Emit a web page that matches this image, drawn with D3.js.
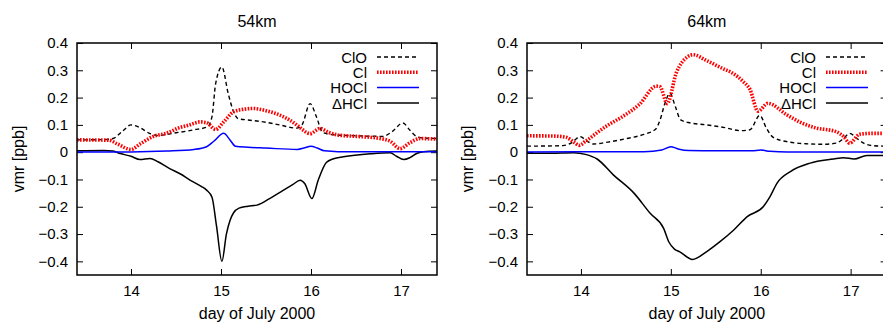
<!DOCTYPE html>
<html>
<head>
<meta charset="utf-8">
<script src="https://cdn.jsdelivr.net/npm/d3@7"></script>
<style>
  html, body { margin: 0; padding: 0; background: #fff; }
  svg { display: block; font-family: "Liberation Sans", Arial, Helvetica, sans-serif; }
</style>
</head>
<body>
<svg id="chart" width="883" height="322"></svg>
<script>
// Chlorine species volume mixing ratios [ppb] vs. day of July 2000, at two altitudes.
const panelTitles = ["54km", "64km"];
const seriesNames = ["ClO", "Cl", "HOCl", "\u0394HCl"];
const xTicks = [14, 15, 16, 17];
const yTicks = [-0.4, -0.3, -0.2, -0.1, 0, 0.1, 0.2, 0.3, 0.4];
const xDomain = [13.4, 17.4];
const yDomain = [-0.45, 0.4];

// 54 km
const clo54 = [[13.4,.045],[13.7,.046],[13.8,.05],[13.9,.075],[14.0,.10],[14.1,.09],[14.2,.07],[14.3,.061],
  [14.5,.071],[14.7,.082],[14.85,.093],[14.9,.13],[14.94,.25],[15.01,.312],[15.08,.215],[15.14,.148],
  [15.19,.123],[15.3,.118],[15.47,.111],[15.65,.1],[15.84,.088],[15.9,.1],[15.99,.178],[16.06,.13],
  [16.13,.072],[16.25,.064],[16.5,.06],[16.8,.058],[16.9,.075],[17.02,.107],[17.1,.08],[17.17,.058],
  [17.25,.052],[17.4,.05]];
const cl54 = [[13.4,.045],[13.75,.044],[13.85,.03],[14.0,.01],[14.1,.03],[14.25,.058],[14.4,.07],
  [14.54,.09],[14.65,.1],[14.77,.111],[14.84,.108],[14.94,.083],[15.03,.111],[15.14,.148],[15.25,.157],
  [15.36,.16],[15.5,.152],[15.66,.135],[15.8,.11],[15.86,.095],[15.99,.068],[16.1,.087],[16.2,.072],
  [16.32,.062],[16.5,.058],[16.77,.05],[16.88,.04],[16.99,.013],[17.1,.035],[17.21,.05],[17.4,.048]];
const hocl54 = [[13.4,.001],[14.0,.001],[14.4,.004],[14.7,.01],[14.84,.02],[14.92,.04],[15.03,.069],
  [15.1,.045],[15.16,.022],[15.3,.018],[15.5,.015],[15.85,.01],[15.92,.015],[16.0,.022],[16.07,.015],
  [16.15,.005],[16.3,.002],[17.4,.002]];
const hcl54 = [[13.4,.005],[13.7,.006],[13.8,.004],[13.88,-.005],[14.0,-.015],[14.1,-.027],[14.21,-.023],
  [14.3,-.035],[14.43,-.06],[14.55,-.08],[14.66,-.103],[14.78,-.125],[14.84,-.139],[14.9,-.165],
  [14.95,-.27],[15.01,-.4],[15.06,-.3],[15.1,-.25],[15.14,-.222],[15.2,-.205],[15.3,-.198],[15.4,-.194],
  [15.54,-.17],[15.69,-.14],[15.8,-.118],[15.88,-.103],[15.93,-.115],[16.01,-.17],[16.08,-.103],
  [16.17,-.038],[16.25,-.024],[16.36,-.017],[16.66,-.006],[16.88,-.002],[16.95,-.015],[17.03,-.027],
  [17.1,-.02],[17.18,-.004],[17.25,.002],[17.4,.004]];

// 64 km
const clo64 = [[13.4,.022],[13.8,.024],[13.9,.035],[13.99,.057],[14.07,.04],[14.14,.03],[14.3,.037],
  [14.51,.05],[14.7,.065],[14.83,.084],[14.88,.118],[14.94,.185],[14.99,.216],[15.05,.167],[15.11,.118],
  [15.22,.107],[15.4,.1],[15.6,.09],[15.77,.079],[15.88,.082],[15.99,.135],[16.06,.09],[16.14,.054],
  [16.3,.038],[16.5,.031],[16.7,.029],[16.84,.033],[16.92,.05],[16.99,.069],[17.07,.05],[17.15,.032],
  [17.25,.024],[17.4,.022]];
const cl64 = [[13.4,.06],[13.7,.059],[13.83,.055],[13.93,.035],[13.98,.025],[14.05,.04],[14.28,.095],
  [14.46,.13],[14.65,.175],[14.84,.242],[14.88,.24],[14.96,.178],[15.06,.29],[15.18,.348],[15.25,.357],
  [15.39,.337],[15.58,.306],[15.69,.289],[15.8,.26],[15.88,.23],[15.97,.15],[16.08,.179],[16.29,.137],
  [16.45,.108],[16.6,.09],[16.84,.075],[16.92,.058],[16.99,.033],[17.1,.066],[17.25,.069],[17.4,.069]];
const hocl64 = [[13.4,.001],[14.7,.002],[14.9,.008],[15.0,.02],[15.08,.012],[15.2,.006],[15.5,.005],
  [15.9,.005],[16.0,.008],[16.1,.003],[16.3,.001],[17.4,.001]];
const hcl64 = [[13.4,-.004],[13.66,-.004],[13.92,-.002],[14.05,-.008],[14.18,-.025],[14.36,-.083],
  [14.59,-.15],[14.77,-.224],[14.92,-.279],[14.98,-.33],[15.04,-.355],[15.1,-.365],[15.24,-.393],
  [15.4,-.364],[15.55,-.327],[15.7,-.285],[15.85,-.236],[16.03,-.199],[16.1,-.165],[16.18,-.114],
  [16.33,-.071],[16.55,-.04],[16.81,-.025],[16.92,-.02],[17.04,-.025],[17.18,-.012],[17.4,-.012]];

const panelData = [[clo54, cl54, hocl54, hcl54], [clo64, cl64, hocl64, hcl64]];

// Line styles for ClO, Cl, HOCl, ΔHCl
const styles = [
  { stroke: "#000", width: 1.4, dash: "4,3" },
  { stroke: "#ff0000", width: 3.6, dash: "1.6,1.4" },
  { stroke: "#0000ff", width: 1.5, dash: null },
  { stroke: "#000", width: 1.5, dash: null }
];

const panels = [
  { left: 77, right: 437, ylabelX: 18, legendX: 367 },
  { left: 527, right: 886.6, ylabelX: 467, legendX: 816 }
];
const plotTop = 43, plotBottom = 275;

const svg = d3.select("#chart");
const defs = svg.append("defs");

panels.forEach((p, i) => {
  const x = d3.scaleLinear().domain(xDomain).range([p.left, p.right]);
  const y = d3.scaleLinear().domain(yDomain).range([plotBottom, plotTop]);
  const g = svg.append("g");

  defs.append("clipPath").attr("id", "clip" + i)
    .append("rect").attr("x", p.left).attr("y", plotTop)
    .attr("width", p.right - p.left).attr("height", plotBottom - plotTop);

  // Axes with inward ticks on all four sides
  const tickLen = 6;
  g.append("g").attr("transform", `translate(0,${plotBottom})`)
    .call(d3.axisBottom(x).tickValues(xTicks).tickSize(-tickLen).tickPadding(10).tickFormat(d3.format("d")))
    .call(a => a.select(".domain").remove());
  g.append("g").attr("transform", `translate(0,${plotTop})`)
    .call(d3.axisTop(x).tickValues(xTicks).tickSize(-tickLen).tickFormat(""))
    .call(a => a.select(".domain").remove());
  g.append("g").attr("transform", `translate(${p.left},0)`)
    .call(d3.axisLeft(y).tickValues(yTicks).tickSize(-tickLen).tickPadding(9)
      .tickFormat(v => v === 0 ? "0" : d3.format(".1f")(v).replace("-", "\u2212")))
    .call(a => a.select(".domain").remove());
  g.append("g").attr("transform", `translate(${p.right},0)`)
    .call(d3.axisRight(y).tickValues(yTicks).tickSize(-tickLen).tickFormat(""))
    .call(a => a.select(".domain").remove());

  g.selectAll(".tick line").attr("stroke", "#000").attr("stroke-width", 1);
  g.selectAll(".tick text").attr("font-size", 15).attr("fill", "#000")
    .attr("font-family", "'Liberation Sans', Arial, sans-serif");

  // Series lines
  const line = d3.line().x(d => x(d[0])).y(d => y(d[1])).curve(d3.curveMonotoneX);
  const lines = g.append("g").attr("clip-path", `url(#clip${i})`);
  const order = [3, 2, 0, 1];
  order.forEach(k => {
    const s = styles[k];
    lines.append("path").datum(panelData[i][k])
      .attr("d", line).attr("fill", "none")
      .attr("stroke", s.stroke).attr("stroke-width", s.width)
      .attr("stroke-dasharray", s.dash)
      .attr("stroke-linejoin", "round");
  });

  // Plot border
  g.append("rect").attr("x", p.left).attr("y", plotTop)
    .attr("width", p.right - p.left).attr("height", plotBottom - plotTop)
    .attr("fill", "none").attr("stroke", "#000").attr("stroke-width", 1.5);

  // Title and axis labels
  g.append("text").attr("x", (p.left + p.right) / 2).attr("y", 27)
    .attr("text-anchor", "middle").attr("font-size", 16).text(panelTitles[i]);
  g.append("text").attr("x", (p.left + p.right) / 2).attr("y", 319)
    .attr("text-anchor", "middle").attr("font-size", 16).text("day of July 2000");
  g.append("text")
    .attr("transform", `translate(${p.ylabelX + 6},${(plotTop + plotBottom) / 2}) rotate(-90)`)
    .attr("text-anchor", "middle").attr("font-size", 16).text("vmr [ppb]");

  // Legend
  const rowY = [57, 72.3, 87.6, 103];
  seriesNames.forEach((name, k) => {
    const s = styles[k];
    g.append("text").attr("x", p.legendX).attr("y", rowY[k] + 5.5)
      .attr("text-anchor", "end").attr("font-size", 15).text(name);
    g.append("line").attr("x1", p.legendX + 10).attr("x2", p.legendX + 52)
      .attr("y1", rowY[k]).attr("y2", rowY[k])
      .attr("stroke", s.stroke).attr("stroke-width", s.width)
      .attr("stroke-dasharray", s.dash);
  });
});
</script>
</body>
</html>
